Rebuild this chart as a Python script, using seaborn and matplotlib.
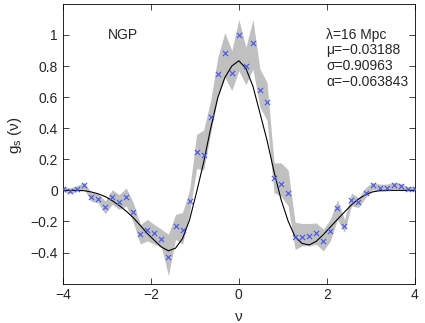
import numpy as np
import pandas as pd
import matplotlib
matplotlib.use("Agg")
import matplotlib.pyplot as plt
import seaborn as sns

# nu values (grid of the measurement)
nu = [-4.00, -3.84, -3.68, -3.52, -3.36, -3.20, -3.04, -2.88, -2.72, -2.56,
      -2.40, -2.24, -2.08, -1.92, -1.76, -1.60, -1.44, -1.28, -1.12, -0.96,
      -0.80, -0.64, -0.48, -0.32, -0.16, 0.00, 0.16, 0.32, 0.48, 0.64,
      0.80, 0.96, 1.12, 1.28, 1.44, 1.60, 1.76, 1.92, 2.08, 2.24,
      2.40, 2.56, 2.72, 2.88, 3.04, 3.20, 3.36, 3.52, 3.68, 3.84, 4.00]

# measured genus (crosses)
g_meas = [0.011, -0.004, 0.011, 0.034, -0.040, -0.053, -0.106, -0.045, -0.074, -0.042,
          -0.140, -0.283, -0.255, -0.274, -0.315, -0.427, -0.230, -0.253, -0.070, 0.249,
          0.228, 0.472, 0.747, 0.881, 0.757, 1.000, 0.802, 0.947, 0.643, 0.566,
          0.081, 0.041, -0.017, -0.302, -0.298, -0.291, -0.272, -0.325, -0.263, -0.115,
          -0.230, -0.059, -0.076, -0.017, 0.034, 0.015, 0.015, 0.032, 0.028, 0.007, 0.007]

# grey band, lower / upper
g_lo = [-0.006, -0.021, -0.008, 0.009, -0.070, -0.080, -0.150, -0.090, -0.123, -0.100,
        -0.206, -0.345, -0.325, -0.347, -0.366, -0.549, -0.315, -0.347, -0.144, 0.140,
        0.132, 0.368, 0.600, 0.727, 0.643, 0.770, 0.680, 0.780, 0.536, 0.451,
        -0.015, -0.038, -0.100, -0.380, -0.357, -0.357, -0.347, -0.390, -0.325, -0.187,
        -0.270, -0.100, -0.110, -0.047, 0.004, -0.005, -0.005, 0.010, 0.008, -0.005, -0.005]
g_hi = [0.026, 0.015, 0.030, 0.051, -0.013, -0.021, -0.068, 0.004, -0.027, 0.015,
        -0.078, -0.220, -0.187, -0.220, -0.250, -0.283, -0.155, -0.142, 0.004, 0.360,
        0.388, 0.579, 0.855, 1.015, 0.900, 1.100, 0.920, 1.100, 0.780, 0.696,
        0.177, 0.177, 0.132, -0.206, -0.213, -0.213, -0.210, -0.250, -0.187, -0.060,
        -0.187, -0.017, -0.047, 0.017, 0.051, 0.040, 0.040, 0.051, 0.045, 0.025, 0.025]

# fitted curve (black line)
g_fit = [0.000, 0.000, 0.000, -0.002, -0.010, -0.022, -0.040, -0.066, -0.098, -0.134,
         -0.176, -0.226, -0.278, -0.322, -0.365, -0.389, -0.372, -0.310, -0.190, -0.010,
         0.180, 0.400, 0.595, 0.725, 0.800, 0.834, 0.785, 0.670, 0.497, 0.323,
         0.120, -0.060, -0.198, -0.300, -0.342, -0.351, -0.328, -0.285, -0.236, -0.187,
         -0.140, -0.093, -0.056, -0.028, -0.010, -0.002, 0.000, 0.000, 0.000, 0.000, 0.000]

params = ["\u03bb=16 Mpc", "\u03bc=\u22120.03188", "\u03c3=0.90963", "\u03b1=\u22120.063843"]
params_y = [1.0, 0.9, 0.8, 0.7]

df = pd.DataFrame({"nu": nu, "meas": g_meas, "lo": g_lo, "hi": g_hi, "fit": g_fit})

sns.set_style("ticks")
plt.rcParams["font.family"] = ["Liberation Sans", "DejaVu Sans"]
plt.rcParams["font.size"] = 10
plt.rcParams["axes.unicode_minus"] = True

fig = plt.figure(figsize=(4.25, 3.23), dpi=100)
ax = fig.add_axes([0.148, 0.122, 0.828, 0.866])

ax.fill_between(df["nu"], df["lo"], df["hi"], color="#c0c0c0", lw=0, zorder=1)
sns.lineplot(data=df, x="nu", y="fit", color="black", lw=0.8, ax=ax, zorder=2)
sns.scatterplot(data=df, x="nu", y="meas", marker="x", color="#4455ee", s=14,
                linewidth=0.8, ax=ax, zorder=3)

ax.set_xlim(-4, 4)
ax.set_ylim(-0.6, 1.2)
ax.set_xticks([-4, -2, 0, 2, 4])
ax.set_yticks([-0.4, -0.2, 0, 0.2, 0.4, 0.6, 0.8, 1.0])
ax.set_yticklabels(["\u22120.4", "\u22120.2", "0", "0.2", "0.4", "0.6", "0.8", "1"])
ax.set_xticklabels(["\u22124", "\u22122", "0", "2", "4"])
ax.tick_params(direction="in", top=True, right=True, length=4, width=0.6, labelsize=10)
for s in ax.spines.values():
    s.set_linewidth(0.6)
    s.set_color("black")

ax.set_xlabel("\u03bd", fontsize=11)
ax.set_ylabel("g$_\\mathregular{s}$ (\u03bd)", fontsize=11)
ax.yaxis.set_label_coords(-0.11, 0.53)
ax.xaxis.set_label_coords(0.5, -0.095)

ax.text(-2.98, 1.0, "NGP", fontsize=10, va="center", ha="left")
for t, yy in zip(params, params_y):
    ax.text(1.99, yy, t, fontsize=10, va="center", ha="left")

fig.savefig("out.png", dpi=100)
